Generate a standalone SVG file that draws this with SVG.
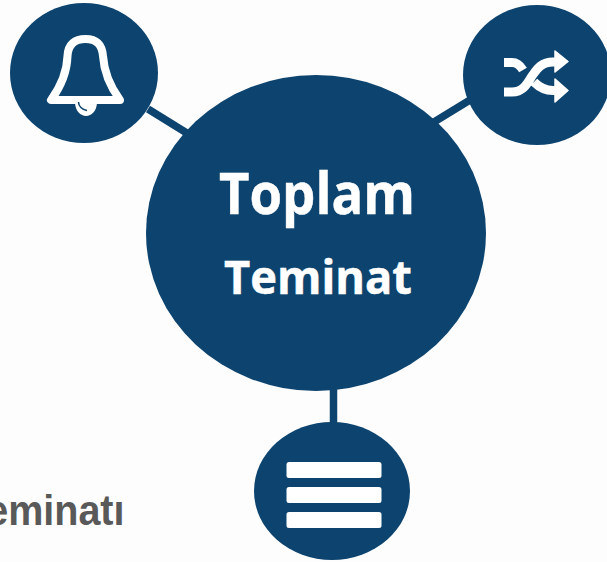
<svg xmlns="http://www.w3.org/2000/svg" width="607" height="562" viewBox="0 0 607 562">
<style>
.n{fill:#0d446f}
.c{stroke:#0d446f;stroke-width:7.500;fill:none}
.t{fill:#fff;stroke:#fff;stroke-width:.5;font-family:"Open Sans","Noto Sans",sans-serif;font-weight:700}
.w{fill:#fff}
.i{fill:none;stroke:#fff;stroke-linejoin:round}
</style>
<rect width="607" height="562" fill="#fdfdfd"/>
<g id="connectors">
<path class="c" d="M148 109L190 135"/>
<path class="c" d="M470 100L434 122"/>
<path class="c" d="M333.500 385V426"/>
</g>
<g id="center">
<ellipse class="n" cx="316" cy="233" rx="170" ry="158"/>
<text class="t" x="219" y="214" font-size="57" textLength="196" lengthAdjust="spacingAndGlyphs">Toplam</text>
<text class="t" x="224" y="294" font-size="47" textLength="188" lengthAdjust="spacingAndGlyphs">Teminat</text>
</g>
<g id="bell">
<ellipse class="n" cx="84" cy="73" rx="74" ry="70"/>
<path class="i" stroke-width="8" d="M51 100H120C109 85 104 72 103 56C102 44 96 39 85.500 39C75 39 68 44 67.500 56C67 72 62 85 51 100Z"/>
<path class="w" d="M75 103H97C96.500 111 91.500 116 86 116C80.500 116 75.500 111 75 103Z"/>
<path d="M78.500 102C78.500 106 82 110 87 110.500" fill="none" stroke="#0d446f" stroke-width="1.500"/>
</g>
<g id="shuffle">
<ellipse class="n" cx="537" cy="75" rx="74" ry="70"/>
<path class="i" stroke-width="9" stroke-linejoin="miter" d="M504 92H512C524 92 528 82 532 76C537 69 541 62 553 62H556M504 62.500H512C517 62.500 520 65 523 70M534 82C539 87 544 90.500 553 90.500H556"/>
<path class="w" stroke="#fff" stroke-width="1.500" stroke-linejoin="round" d="M555 51L568 61.500L555 72ZM555 79L568 90.500L555 102Z"/>
</g>
<g id="menu">
<ellipse class="n" cx="332" cy="491" rx="78" ry="69"/>
<rect class="w" x="286.500" y="462" width="95" height="16" rx="2.500"/>
<rect class="w" x="286.500" y="487" width="95" height="16" rx="2.500"/>
<rect class="w" x="286.500" y="512" width="95" height="16" rx="2.500"/>
</g>
<text transform="translate(124.500 525) scale(1 1.080)" text-anchor="end" font-family="'Liberation Sans',Arial,sans-serif" font-weight="700" font-size="39.500" fill="#595959">eminatı</text>
</svg>
